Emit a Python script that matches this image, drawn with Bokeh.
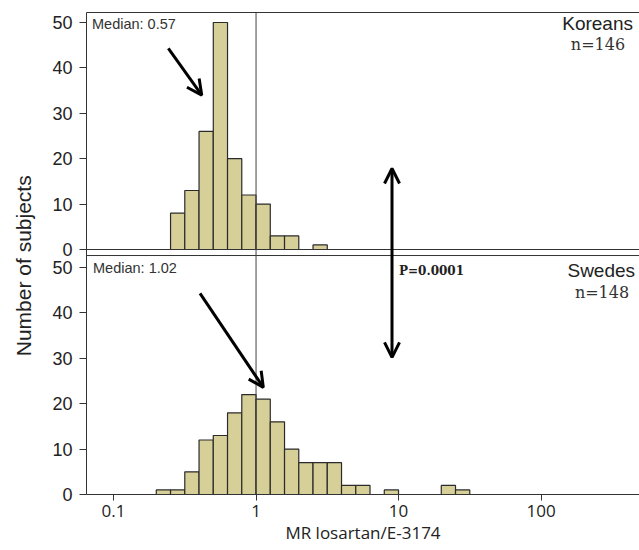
import math
from bokeh.plotting import figure
from bokeh.layouts import row
from bokeh.models import (ColumnDataSource, FixedTicker, LinearAxis, Label, Span,
                          Arrow, OpenHead, BasicTickFormatter, Range1d)
from bokeh.core.properties import value
from bokeh.embed import file_html
from bokeh.resources import INLINE

# ---------------- data ----------------
bin_width_log = 0.1  # histogram bins of 0.1 in log10(MR)

kor_log_left = [-0.6, -0.5, -0.4, -0.3, -0.2, -0.1, 0.0, 0.1, 0.2, 0.3, 0.4]
kor_counts = [8, 13, 26, 50, 20, 12, 10, 3, 3, 0, 1]

swe_log_left = [-0.7, -0.6, -0.5, -0.4, -0.3, -0.2, -0.1, 0.0, 0.1, 0.2, 0.3,
                0.4, 0.5, 0.6, 0.7, 0.8, 0.9, 1.0, 1.1, 1.2, 1.3, 1.4]
swe_counts = [1, 1, 5, 12, 13, 18, 22, 21, 16, 10, 7,
              7, 7, 2, 2, 0, 1, 0, 0, 0, 2, 1]

groups = ["Koreans", "Swedes"]
group_n = ["n=146", "n=148"]
medians = ["Median: 0.57", "Median: 1.02"]
p_text = "P=0.0001"

x_ticks = [0.1, 1, 10, 100]
x_tick_labels = ["0.1", "1", "10", "100"]
y_ticks = [0, 10, 20, 30, 40, 50]
y_tick_labels = ["0", "10", "20", "30", "40", "50"]

# ---------------- layout constants ----------------
x_lo, x_hi = 0.0646, 491.0
# Swedes panel uses the main y range; Koreans panel an extra range on the same frame
BOT_END = 106.17          # main (Swedes) range: 0 .. BOT_END
BOT_PANEL_TOP = 52.64     # upper edge of the Swedes panel
TOP_START, TOP_END = -53.96, 52.2   # Koreans range

FILL = "#d6cf98"
EDGE = "#2b2b2b"
AX = "#333333"
TXT = "#222222"


def make_source(log_left, counts):
    lefts, rights, tops = [], [], []
    for l, c in zip(log_left, counts):
        if c > 0:
            lefts.append(10 ** l)
            rights.append(10 ** (l + bin_width_log))
            tops.append(c)
    return ColumnDataSource(dict(left=lefts, right=rights, top=tops,
                                 bottom=[0] * len(tops)))


def bare_axis(ax):
    ax.ticker = FixedTicker(ticks=[])
    ax.axis_line_color = AX
    ax.major_tick_line_color = None
    ax.minor_tick_line_color = None
    ax.major_label_text_font_size = "0px"
    ax.major_label_standoff = 0
    ax.major_tick_out = 0
    ax.major_tick_in = 0
    ax.minor_tick_out = 0
    ax.minor_tick_in = 0


p = figure(width=599, height=550, x_axis_type="log", x_range=(x_lo, x_hi),
           y_range=(0, BOT_END), output_backend="svg", toolbar_location=None,
           min_border_left=46, min_border_right=0, min_border_top=12,
           min_border_bottom=56)
p.extra_y_ranges = {"top": Range1d(TOP_START, TOP_END)}
p.xgrid.grid_line_color = None
p.ygrid.grid_line_color = None
p.outline_line_color = None
p.background_fill_color = "white"
p.border_fill_color = "white"

# y axis: ticks for both panels (Koreans ticks mapped from its own range)
bot_tick_pos = [float(t) for t in y_ticks]
top_tick_pos = [BOT_END * (t - TOP_START) / (TOP_END - TOP_START) for t in y_ticks]
ya = p.left[0]
ya.ticker = FixedTicker(ticks=bot_tick_pos + top_tick_pos)
overrides = {}
for pos, lab_txt in zip(bot_tick_pos, y_tick_labels):
    overrides[pos] = lab_txt
for pos, lab_txt in zip(top_tick_pos, y_tick_labels):
    overrides[pos] = lab_txt
ya.major_label_overrides = overrides
ya.axis_line_color = AX
ya.major_tick_line_color = AX
ya.major_tick_out = 7
ya.major_tick_in = 0
ya.minor_tick_line_color = None
ya.major_label_standoff = 7
ya.major_label_text_font = "Liberation Sans"
ya.major_label_text_font_size = "18px"
ya.major_label_text_color = TXT

xb = p.below[0]
xb.ticker = FixedTicker(ticks=x_ticks)
xb.formatter = BasicTickFormatter()
xb.major_label_overrides = dict(zip(x_ticks, x_tick_labels))
xb.axis_line_color = AX
xb.major_tick_line_color = AX
xb.major_tick_out = 6
xb.major_tick_in = 0
xb.minor_tick_line_color = None
xb.major_label_standoff = 4
xb.major_label_text_font = "Open Sans"
xb.major_label_text_font_size = "17px"
xb.major_label_text_color = TXT
xb.axis_label = "MR losartan/E-3174"
xb.axis_label_text_font = "Open Sans"
xb.axis_label_text_font_size = "17px"
xb.axis_label_text_font_style = "normal"
xb.axis_label_text_color = TXT
xb.axis_label_standoff = 1

top_ax = LinearAxis()
bare_axis(top_ax)
p.add_layout(top_ax, "above")

# panel separators
p.add_layout(Span(location=0, dimension="width", y_range_name="top",
                  line_color=AX, line_width=1))
p.add_layout(Span(location=BOT_PANEL_TOP, dimension="width",
                  line_color=AX, line_width=1))

# histograms
p.quad(left="left", right="right", top="top", bottom="bottom",
       source=make_source(kor_log_left, kor_counts), y_range_name="top",
       fill_color=FILL, line_color=EDGE, line_width=1.2)
p.quad(left="left", right="right", top="top", bottom="bottom",
       source=make_source(swe_log_left, swe_counts),
       fill_color=FILL, line_color=EDGE, line_width=1.2)

# reference line at MR = 1
p.add_layout(Span(location=1, dimension="height", line_color="#444444",
                  line_width=1))

# texts
p.add_layout(Label(x=0.0706, y=49.7, y_range_name="top", text=medians[0],
                   text_align="left", text_baseline="middle",
                   text_font="Liberation Sans", text_font_size="14.5px",
                   text_color="#333333"))
p.add_layout(Label(x=0.0718, y=49.8, text=medians[1], text_align="left",
                   text_baseline="middle", text_font="Liberation Sans",
                   text_font_size="14.5px", text_color="#333333"))
p.add_layout(Label(x=442, y=49.7, y_range_name="top", text=groups[0],
                   text_align="right", text_baseline="middle",
                   text_font="Liberation Sans", text_font_size="19px",
                   text_color=TXT))
p.add_layout(Label(x=457, y=49.3, text=groups[1], text_align="right",
                   text_baseline="middle", text_font="Liberation Sans",
                   text_font_size="19px", text_color=TXT))
p.add_layout(Label(x=251, y=45.1, y_range_name="top", text=group_n[0],
                   text_align="center", text_baseline="middle",
                   text_font="DejaVu Serif", text_font_size="16px",
                   text_color="#333333"))
p.add_layout(Label(x=268, y=44.5, text=group_n[1], text_align="center",
                   text_baseline="middle", text_font="DejaVu Serif",
                   text_font_size="16px", text_color="#333333"))
p.add_layout(Label(x=10.08, y=49.3, text=p_text, text_align="left",
                   text_baseline="middle", text_font="DejaVu Serif",
                   text_font_size="12px", text_font_style="bold",
                   text_color="#222222"))

# median arrows
p.add_layout(Arrow(x_start=0.2424, y_start=44.3, x_end=0.416, y_end=34.0,
                   y_range_name="top", line_width=3, line_color="black",
                   end=OpenHead(size=15, line_width=3, line_color="black")))
p.add_layout(Arrow(x_start=0.4045, y_start=44.3, x_end=1.125, y_end=23.6,
                   line_width=3, line_color="black",
                   end=OpenHead(size=15, line_width=3, line_color="black")))
# double-headed arrow spanning the two panels
p.add_layout(Arrow(x_start=9.0, y_start=30.2, x_end=9.0, y_end=71.8,
                   line_width=3, line_color="black",
                   start=OpenHead(size=15, line_width=3, line_color="black"),
                   end=OpenHead(size=15, line_width=3, line_color="black")))

# shared y-axis title
lab = figure(width=40, height=550, x_range=(0, 1), y_range=(0, 1),
             output_backend="svg", toolbar_location=None,
             x_axis_location=None, y_axis_location=None,
             min_border=0)
lab.xgrid.grid_line_color = None
lab.ygrid.grid_line_color = None
lab.outline_line_color = None
lab.text(x=[0.575], y=[0.4745], text=["Number of subjects"], angle=math.pi / 2,
         text_align="center", text_baseline="middle",
         text_font=value("Liberation Sans"), text_font_size="21px",
         text_color=TXT)

layout = row(lab, p, spacing=0)
open("out.html", "w").write(file_html(layout, INLINE))
